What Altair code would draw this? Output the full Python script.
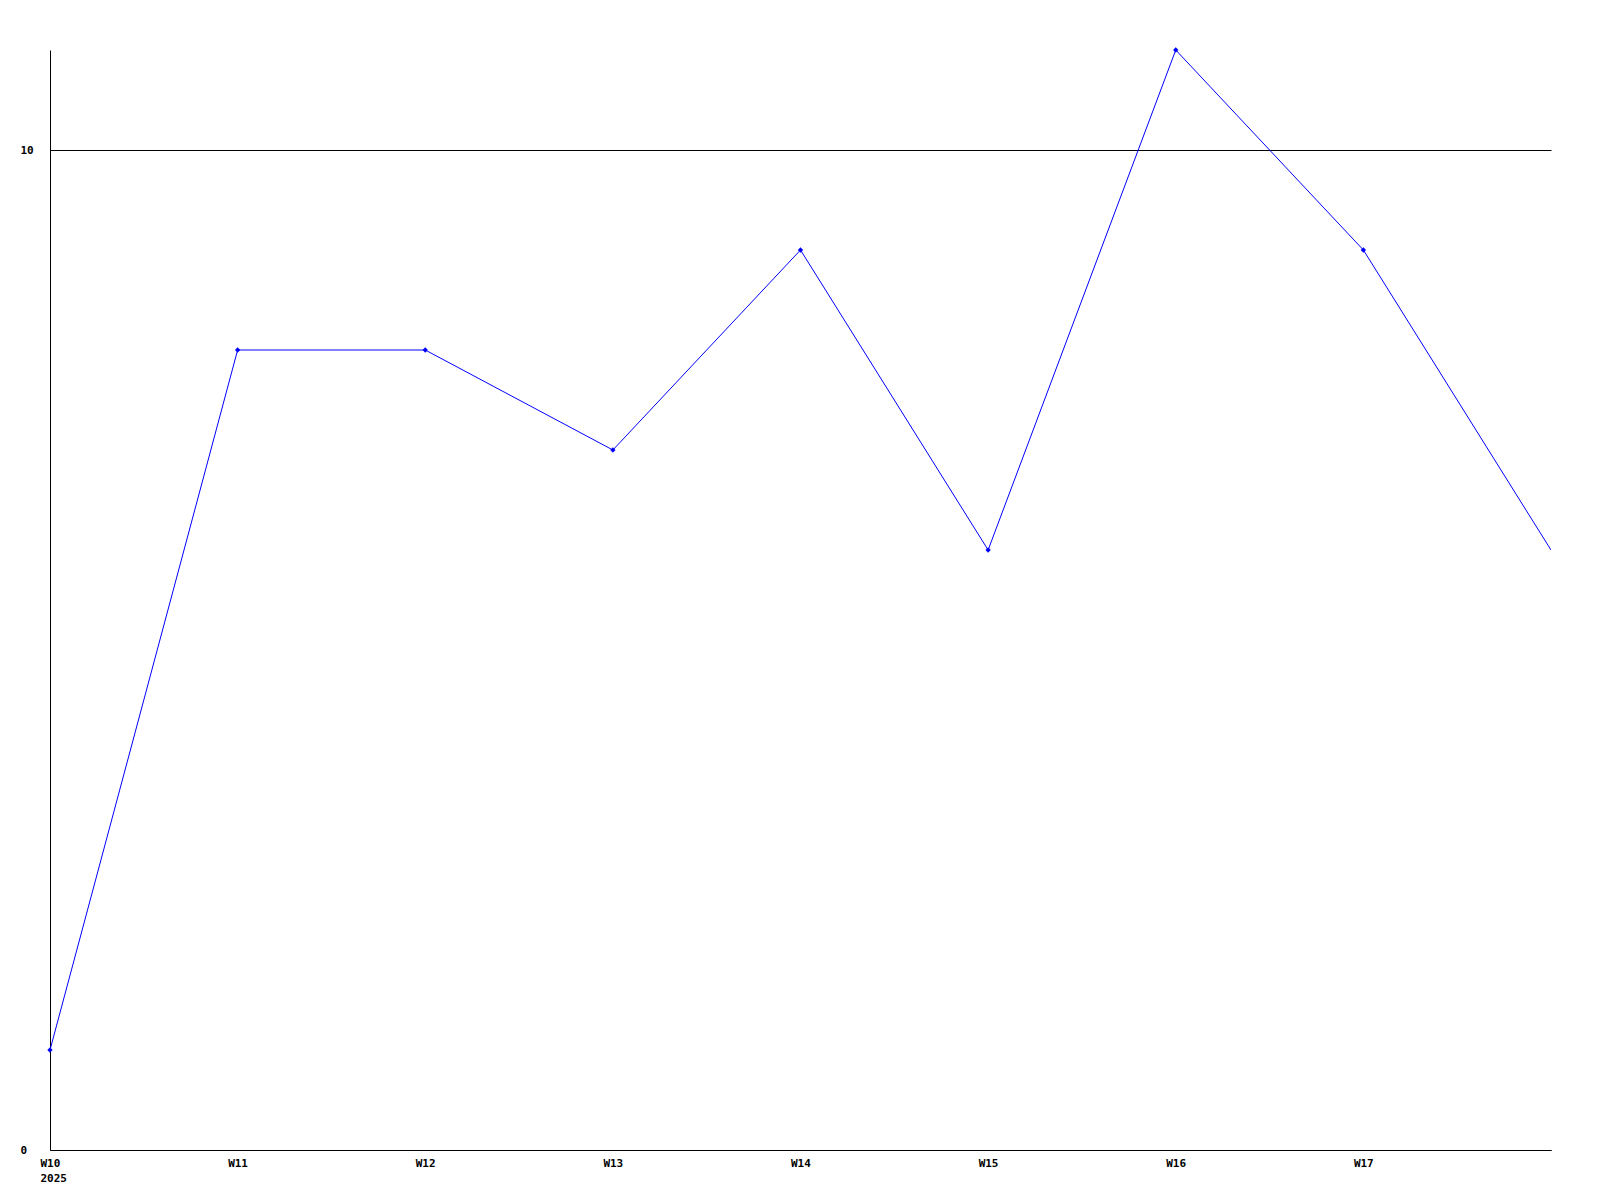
import altair as alt
import pandas as pd

weeks = ["W10", "W11", "W12", "W13", "W14", "W15", "W16", "W17", "W18"]
values = [1, 8, 8, 7, 9, 6, 11, 9, 6]
year_label = "2025"
y_ticks = [0, 10]

df = pd.DataFrame({"idx": list(range(len(weeks))), "week": weeks, "value": values})
df["marker"] = [True] * (len(weeks) - 1) + [False]

label_map = "{" + ",".join(f"'{i}':'{w}'" for i, w in enumerate(weeks)) + "}"
label_expr = (f"datum.value == 0 ? ['{weeks[0]}', '{year_label}'] : "
              f"{label_map}[''+datum.value]")

x = alt.X("idx:Q",
          scale=alt.Scale(domain=[0, len(weeks) - 1], nice=False, zero=False),
          axis=alt.Axis(values=list(range(len(weeks) - 1)), labelExpr=label_expr,
                        title=None, grid=False, ticks=False, domainColor="black",
                        labelAlign="left", labelOffset=-10, labelPadding=7,
                        labelLineHeight=15, labelBaseline="top",
                        labelFont="DejaVu Sans Mono", labelFontWeight="bold",
                        labelFontSize=11, labelColor="black"))
y = alt.Y("value:Q",
          scale=alt.Scale(domain=[0, 11], nice=False),
          axis=alt.Axis(values=y_ticks, title=None, grid=True, gridColor="black",
                        gridOpacity=1, gridWidth=1, ticks=False, domainColor="black",
                        labelAlign="left", labelPadding=30, labelBaseline="middle",
                        labelFont="DejaVu Sans Mono", labelFontWeight="bold",
                        labelFontSize=11, labelColor="black"))

base = alt.Chart(df)
line = base.mark_line(color="#0000ff", strokeWidth=1, clip=True).encode(x=x, y=y)
pts = base.transform_filter("datum.marker").mark_point(
    shape="diamond", filled=True, color="#0000ff", size=28, opacity=1).encode(x=x, y=y)

chart = (line + pts).properties(
    width=1501, height=1100,
    background="white",
    autosize=alt.AutoSizeParams(type="none"),
    padding={"left": 42, "top": 42, "right": 30, "bottom": 50},
).configure_view(strokeWidth=0, stroke=None)

chart.save("out.html", embed_options={"renderer": "svg", "actions": False})
